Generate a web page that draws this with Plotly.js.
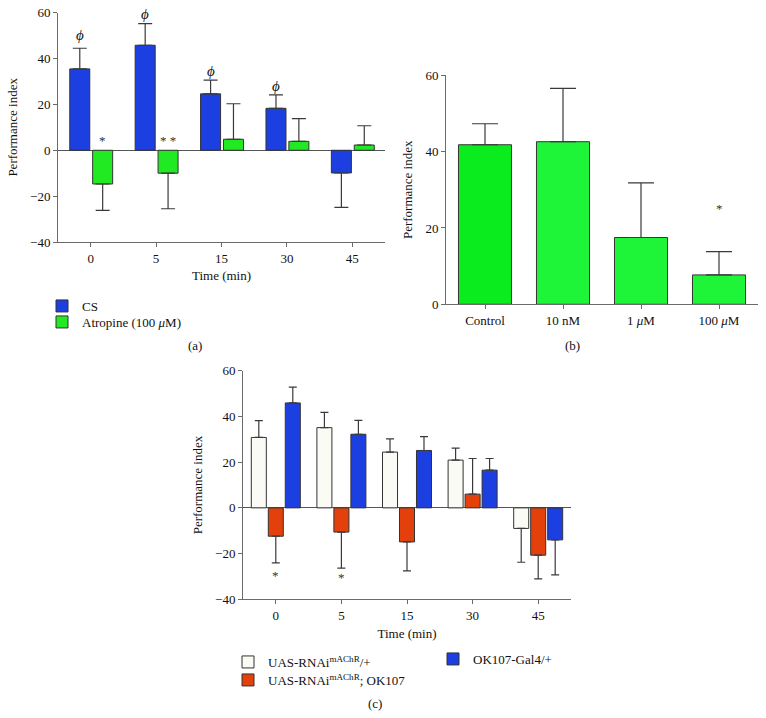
<!DOCTYPE html>
<html>
<head>
<meta charset="utf-8">
<script src="https://cdn.plot.ly/plotly-3.0.1.min.js"></script>
<style>html,body{margin:0;padding:0;background:#fff;}#chart{width:766px;height:718px;}</style>
</head>
<body>
<div id="chart"></div>
<script>
// ---------- data ----------
const timeCats = ['0', '5', '15', '30', '45'];
// panel (a)
const csMean  = [35.5, 45.8, 24.6, 18.3, -9.9];
const csErr   = [9.0, 9.4, 6.0, 5.9, 15.0];
const atrMean = [-14.7, -10.0, 4.8, 3.9, 2.3];
const atrErr  = [11.5, 15.5, 15.5, 9.9, 8.4];
// panel (b)
const concCats   = ['Control', '10 nM', '1 μM', '100 μM'];
const concLabels = ['Control', '10 nM', '1 <i>μ</i>M', '100 <i>μ</i>M'];
const concMean   = [41.8, 42.6, 17.5, 7.7];
const concErr    = [5.5, 14.0, 14.3, 6.1];
// panel (c)
const uasMean  = [30.8, 35.1, 24.4, 20.9, -9.0];
const uasErr   = [7.4, 6.7, 5.8, 5.2, 14.8];
const rnaiMean = [-12.4, -10.6, -14.9, 6.0, -20.7];
const rnaiErr  = [11.7, 15.8, 12.7, 15.6, 10.4];
const okMean   = [45.9, 32.2, 25.1, 16.5, -14.0];
const okErr    = [6.9, 6.1, 6.1, 5.1, 15.3];
// significance marks
const phiCats = ['0', '5', '15', '30'];
const phiY    = [50.3, 59.5, 34.6, 28.1];
const starA   = [{cat: '0', y: 4.3, t: '*'}, {cat: '5', y: 4.3, t: '* *'}];
const starB   = [{cat: '100 μM', y: 25.0, t: '*'}];
const starC   = [{cat: '0', y: -29.5, t: '*'}, {cat: '5', y: -30.4, t: '*'}];

// ---------- helpers ----------
const FONT = '"Liberation Serif", "Times New Roman", serif';
const FS = 13;
const EC = '#3a3a3a';
const AX = '#6a6a6a';
function errOut(mean, err, w) {
  return {
    type: 'data', symmetric: false,
    array: mean.map((m, i) => m >= 0 ? err[i] : 0),
    arrayminus: mean.map((m, i) => m < 0 ? err[i] : 0),
    color: EC, thickness: 1.2, width: w
  };
}
function barTrace(x, y, err, opts) {
  return Object.assign({
    type: 'bar', x: x, y: y,
    error_y: errOut(y, err, opts.ew),
    marker: {color: opts.color, line: {color: '#333', width: 1}},
    hoverinfo: 'skip'
  }, opts.extra);
}

const wA = 0.306, wC = 0.229;
const traces = [
  barTrace(timeCats, csMean, csErr, {ew: 7, color: '#1b3fe0',
    extra: {name: 'CS', width: wA, offset: -0.32, xaxis: 'x', yaxis: 'y', legend: 'legend'}}),
  barTrace(timeCats, atrMean, atrErr, {ew: 7, color: '#22ea22',
    extra: {name: 'Atropine (100 <i>μ</i>M)', width: wA, offset: 0.03, xaxis: 'x', yaxis: 'y', legend: 'legend2'}}),
  barTrace(concCats, concMean, concErr, {ew: 13,
    color: ['#0aec1e', '#1ef538', '#1ef538', '#1ef538'],
    extra: {name: 'conc', width: 0.68, offset: -0.34, xaxis: 'x2', yaxis: 'y2', showlegend: false}}),
  barTrace(timeCats, uasMean, uasErr, {ew: 4, color: '#fbfbf5',
    extra: {name: 'UAS-RNAi<sup>mAChR</sup>/+', width: wC, offset: -0.3735, xaxis: 'x3', yaxis: 'y3', legend: 'legend3'}}),
  barTrace(timeCats, rnaiMean, rnaiErr, {ew: 4, color: '#e4400c',
    extra: {name: 'UAS-RNAi<sup>mAChR</sup>; OK107', width: wC, offset: -0.1145, xaxis: 'x3', yaxis: 'y3', legend: 'legend4'}}),
  barTrace(timeCats, okMean, okErr, {ew: 4, color: '#1b3fe0',
    extra: {name: 'OK107-Gal4/+', width: wC, offset: 0.1445, xaxis: 'x3', yaxis: 'y3', legend: 'legend5'}})
];

function xAxis(domain, anchor, title, extra) {
  return Object.assign({
    domain: domain, anchor: anchor, type: 'category',
    showline: true, linecolor: AX, linewidth: 1,
    ticks: 'outside', ticklen: 4, tickcolor: AX,
    showgrid: false, zeroline: false,
    tickfont: {family: FONT, size: FS, color: '#111'},
    title: title ? {text: title, font: {family: FONT, size: FS, color: '#111'}, standoff: 6} : undefined
  }, extra || {});
}
function yAxis(domain, anchor, range, extra) {
  return Object.assign({
    domain: domain, anchor: anchor, range: range, dtick: 20,
    showline: true, linecolor: AX, linewidth: 1,
    ticks: 'outside', ticklen: 4, tickcolor: AX,
    showgrid: false, zeroline: true, zerolinecolor: '#555', zerolinewidth: 1,
    tickfont: {family: FONT, size: FS, color: '#111'},
    title: {text: 'Performance index', font: {family: FONT, size: FS, color: '#111'}, standoff: 9}
  }, extra || {});
}

const anns = [];
const annFont = {family: FONT, size: FS, color: '#333'};
phiCats.forEach((c, i) => {
  anns.push({xref: 'x', yref: 'y', x: timeCats.indexOf(c) - 0.167, y: phiY[i],
    xanchor: 'center', yanchor: 'middle',
    text: '<i>ϕ</i>', showarrow: false, font: {family: FONT, size: 15, color: '#111'}});
});
starA.forEach(s => anns.push({xref: 'x', yref: 'y', x: timeCats.indexOf(s.cat) + 0.183, y: s.y,
  xanchor: 'center', yanchor: 'middle', text: s.t, showarrow: false, font: annFont}));
starB.forEach(s => anns.push({xref: 'x2', yref: 'y2', x: concCats.indexOf(s.cat), y: s.y,
  xanchor: 'center', yanchor: 'middle', text: s.t, showarrow: false, font: annFont}));
starC.forEach(s => anns.push({xref: 'x3', yref: 'y3', x: timeCats.indexOf(s.cat), y: s.y,
  xanchor: 'center', yanchor: 'middle', text: s.t, showarrow: false, font: annFont}));
[['(a)', 195, 345], ['(b)', 572, 345], ['(c)', 375, 703]].forEach(p => {
  anns.push({xref: 'paper', yref: 'paper', x: p[1] / 766, y: 1 - p[2] / 718,
    xanchor: 'center', yanchor: 'middle',
    text: p[0], showarrow: false, font: {family: FONT, size: FS, color: '#111'}});
});

const legFont = {family: FONT, size: FS, color: '#111'};
function leg(xpx, ypx) {
  return {x: xpx / 766, y: 1 - ypx / 718, xanchor: 'left', yanchor: 'top',
    bgcolor: 'rgba(0,0,0,0)', font: legFont, traceorder: 'normal'};
}
const layout = {
  width: 766, height: 718,
  margin: {l: 0, r: 0, t: 0, b: 0},
  paper_bgcolor: '#fff', plot_bgcolor: 'rgba(0,0,0,0)',
  barmode: 'overlay',
  font: {family: FONT, size: FS, color: '#111'},
  xaxis: xAxis([58 / 766, 385 / 766], 'y', 'Time (min)', {range: [-0.5, 4.5]}),
  yaxis: yAxis([1 - 242 / 718, 1 - 12.7 / 718], 'x', [-40, 60]),
  xaxis2: xAxis([446 / 766, 758 / 766], 'y2', null,
    {range: [-0.5, 3.5], tickvals: concCats, ticktext: concLabels}),
  yaxis2: yAxis([1 - 304.3 / 718, 1 - 75.3 / 718], 'x2', [0, 60], {zeroline: false}),
  xaxis3: xAxis([243 / 766, 571 / 766], 'y3', 'Time (min)', {range: [-0.5, 4.5]}),
  yaxis3: yAxis([1 - 599.3 / 718, 1 - 370.7 / 718], 'x3', [-40, 60]),
  legend:  leg(42, 291),
  legend2: leg(42, 307),
  legend3: leg(228, 647),
  legend4: leg(228, 665),
  legend5: leg(433, 644),
  annotations: anns,
  showlegend: true
};

Plotly.newPlot('chart', traces, layout, {displayModeBar: false, staticPlot: true});
</script>
</body>
</html>
